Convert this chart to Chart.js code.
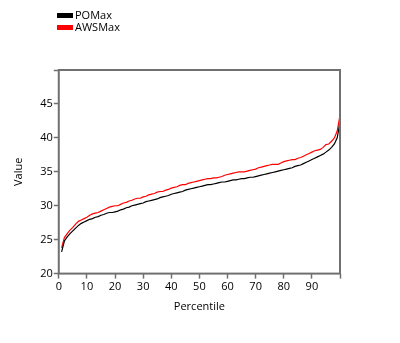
<!DOCTYPE html>
<html>
<head>
<meta charset="utf-8">
<script src="https://cdn.jsdelivr.net/npm/chart.js@4"></script>
<style>
  html, body { margin: 0; padding: 0; background: #fff; }
  #wrap { width: 400px; height: 343px; }
</style>
</head>
<body>
<div id="wrap"><canvas id="myChart" width="400" height="343"></canvas></div>
<script>
// percentiles 1..100
var percentiles = [];
for (var i = 1; i <= 100; i++) percentiles.push(i);

var poMax = [
  23.2, 24.8, 25.4, 25.9, 26.3, 26.7, 27.1, 27.4, 27.6, 27.8,
  28.0, 28.1, 28.3, 28.4, 28.6, 28.7, 28.9, 29.0, 29.0, 29.1,
  29.2, 29.4, 29.5, 29.7, 29.8, 30.0, 30.1, 30.2, 30.3, 30.4,
  30.6, 30.7, 30.8, 30.9, 31.0, 31.2, 31.3, 31.4, 31.5, 31.7,
  31.8, 31.9, 32.0, 32.1, 32.3, 32.4, 32.5, 32.6, 32.7, 32.8,
  32.9, 33.0, 33.1, 33.1, 33.2, 33.3, 33.4, 33.5, 33.5, 33.6,
  33.7, 33.8, 33.8, 33.9, 34.0, 34.0, 34.1, 34.2, 34.2, 34.3,
  34.4, 34.5, 34.6, 34.7, 34.8, 34.9, 35.0, 35.1, 35.2, 35.3,
  35.4, 35.5, 35.6, 35.8, 35.9, 36.0, 36.2, 36.4, 36.6, 36.8,
  37.0, 37.2, 37.4, 37.6, 37.9, 38.2, 38.6, 39.1, 40.0, 42.3
];

var awsMax = [
  23.8, 25.3, 25.9, 26.4, 26.8, 27.3, 27.7, 27.9, 28.1, 28.3,
  28.6, 28.8, 28.9, 29.0, 29.2, 29.4, 29.6, 29.8, 29.9, 30.0,
  30.0, 30.2, 30.4, 30.5, 30.7, 30.8, 31.0, 31.1, 31.1, 31.3,
  31.4, 31.6, 31.7, 31.8, 32.0, 32.1, 32.1, 32.3, 32.4, 32.6,
  32.7, 32.8, 33.0, 33.1, 33.1, 33.3, 33.4, 33.5, 33.6, 33.7,
  33.8, 33.9, 34.0, 34.0, 34.1, 34.1, 34.2, 34.3, 34.5, 34.6,
  34.7, 34.8, 34.9, 35.0, 35.0, 35.0, 35.1, 35.2, 35.3, 35.4,
  35.6, 35.7, 35.8, 35.9, 36.0, 36.1, 36.1, 36.1, 36.3, 36.5,
  36.6, 36.7, 36.8, 36.8, 37.0, 37.1, 37.3, 37.5, 37.7, 37.9,
  38.1, 38.2, 38.3, 38.6, 39.0, 39.1, 39.5, 40.0, 41.0, 43.3
];

var seriesNames = ['POMax', 'AWSMax'];
var seriesColors = ['#000000', '#ff0000'];

var fontFamily = '"Open Sans", "DejaVu Sans", sans-serif';
var axisGray = '#707070';

function toPoints(values) {
  return values.map(function (v, i) { return { x: percentiles[i], y: v }; });
}

// frame around the plot area + legend at the top left
var framePlugin = {
  id: 'frame',
  afterDraw: function (chart) {
    var ctx = chart.ctx;
    var a = chart.chartArea;
    ctx.save();
    ctx.strokeStyle = axisGray;
    ctx.lineWidth = 2;
    ctx.strokeRect(a.left, a.top, a.right - a.left, a.bottom - a.top);

    ctx.font = '11px ' + fontFamily;
    ctx.textBaseline = 'middle';
    for (var i = 0; i < seriesNames.length; i++) {
      var y = 16 + i * 12;
      ctx.fillStyle = seriesColors[i];
      ctx.fillRect(57, y - 3, 16, 5);
      ctx.fillStyle = '#000';
      ctx.fillText(seriesNames[i], 75, y);
    }
    ctx.restore();
  }
};

var ctx = document.getElementById('myChart');

var myChart = new Chart(ctx, {
  type: 'line',
  data: {
    datasets: [
      {
        label: seriesNames[0],
        data: toPoints(poMax),
        borderColor: seriesColors[0],
        borderWidth: 1.2,
        pointRadius: 0,
        tension: 0
      },
      {
        label: seriesNames[1],
        data: toPoints(awsMax),
        borderColor: seriesColors[1],
        borderWidth: 1.2,
        pointRadius: 0,
        tension: 0
      }
    ]
  },
  options: {
    responsive: false,
    animation: false,
    layout: {
      padding: { top: 70, right: 60, bottom: 0, left: 0 }
    },
    scales: {
      x: {
        type: 'linear',
        min: 0,
        max: 100,
        ticks: {
          stepSize: 10,
          color: '#000',
          padding: 2,
          maxRotation: 0,
          font: { family: fontFamily, size: 11 },
          callback: function (v) { return v === 100 ? '' : v; }
        },
        grid: { drawOnChartArea: false, color: axisGray, tickLength: 5, tickWidth: 1.5 },
        border: { display: false },
        title: {
          display: true,
          text: 'Percentile',
          color: '#000',
          font: { family: fontFamily, size: 11 },
          padding: { top: 4, bottom: 30 }
        }
      },
      y: {
        min: 20,
        max: 50,
        ticks: {
          stepSize: 5,
          color: '#000',
          padding: 1,
          font: { family: fontFamily, size: 11 },
          callback: function (v) { return v === 50 ? '' : v; }
        },
        grid: { drawOnChartArea: false, color: axisGray, tickLength: 5, tickWidth: 1.5 },
        border: { display: false },
        title: {
          display: true,
          text: 'Value',
          color: '#000',
          font: { family: fontFamily, size: 11 },
          padding: { top: 12, bottom: 14 }
        }
      }
    },
    plugins: {
      legend: { display: false },
      tooltip: { enabled: false }
    }
  },
  plugins: [framePlugin]
});
</script>
</body>
</html>
